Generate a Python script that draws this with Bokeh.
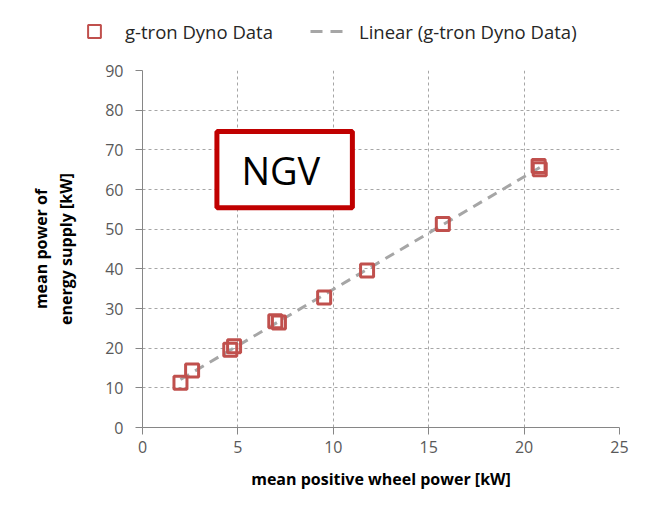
import numpy as np
from bokeh.plotting import figure
from bokeh.layouts import column
from bokeh.models import (Range1d, Legend, LegendItem, BoxAnnotation, Label,
                          ColumnDataSource, FixedTicker, LinearAxis)
from bokeh.embed import file_html
from bokeh.resources import INLINE

# ---- data ----
wheel_power = [1.99, 2.6, 4.6, 4.8, 6.96, 7.15, 9.52, 11.77, 15.74, 20.76, 20.82]
supply_power = [11.3, 14.4, 19.6, 20.5, 26.8, 26.5, 32.8, 39.6, 51.3, 65.9, 65.1]
x_ticks = [0, 5, 10, 15, 20, 25]
y_ticks = [0, 10, 20, 30, 40, 50, 60, 70, 80, 90]
series_name = "g-tron Dyno Data"
trend_name = "Linear (g-tron Dyno Data)"
box_text = "NGV"
x_title = "mean positive wheel power [kW]"
y_title_line1 = "mean power of"
y_title_line2 = "energy supply [kW]"

# linear trendline fitted to the data
slope, intercept = np.polyfit(wheel_power, supply_power, 1)
trend_x = [min(wheel_power), max(wheel_power)]
trend_y = [slope * v + intercept for v in trend_x]

FONT = "Open Sans"
RED = "#C0504D"
W = 629
LEG_H = 50
H = 499 - LEG_H

src = ColumnDataSource(dict(x=wheel_power, y=supply_power))
trend_src = ColumnDataSource(dict(x=trend_x, y=trend_y))

# ---------------- main chart ----------------
p = figure(width=W, height=H, output_backend="svg", toolbar_location=None,
           x_range=Range1d(0, 25), y_range=Range1d(0, 90),
           min_border_left=142, min_border_right=10,
           min_border_top=70 - LEG_H, min_border_bottom=72)
p.frame_align = False
p.outline_line_color = None
p.background_fill_color = "white"
p.border_fill_color = "white"

for g in (p.xgrid, p.ygrid):
    g.grid_line_color = "#a6a6a6"
    g.grid_line_dash = "3 3"
    g.grid_line_width = 1
p.xgrid.ticker = FixedTicker(ticks=x_ticks)
p.ygrid.ticker = FixedTicker(ticks=y_ticks)

p.xaxis.ticker = FixedTicker(ticks=x_ticks)
p.yaxis.ticker = FixedTicker(ticks=y_ticks)
for ax in (p.xaxis[0], p.yaxis[0]):
    ax.axis_line_color = "#868686"
    ax.major_tick_line_color = "#868686"
    ax.major_tick_in = 0
    ax.major_tick_out = 7
    ax.minor_tick_line_color = None
    ax.major_label_text_font = FONT
    ax.major_label_text_font_size = "16px"
    ax.major_label_text_color = "#595959"
    ax.axis_label_text_font = FONT
    ax.axis_label_text_font_size = "16px"
    ax.axis_label_text_font_style = "bold"
    ax.axis_label_text_color = "black"
p.xaxis.major_label_standoff = 6
p.yaxis.major_label_standoff = 12
p.xaxis.axis_label = x_title
p.xaxis.axis_label_standoff = 12
p.yaxis.axis_label = y_title_line2
p.yaxis.axis_label_standoff = 25

y_outer = LinearAxis(axis_label=y_title_line1, axis_line_color=None,
                     major_tick_line_color=None, minor_tick_line_color=None,
                     major_label_text_font_size="0px",
                     ticker=FixedTicker(ticks=[]),
                     axis_label_standoff=1, axis_label_text_font=FONT,
                     axis_label_text_font_size="16px",
                     axis_label_text_font_style="bold",
                     axis_label_text_color="black")
p.add_layout(y_outer, "left")

p.line("x", "y", source=trend_src, line_color="#a6a6a6",
       line_width=3, line_dash="10 7")
p.scatter("x", "y", source=src, marker="square", size=13,
          fill_color="white", fill_alpha=0.0,
          line_color=RED, line_width=3)

box = BoxAnnotation(left=3.9, right=11.0, bottom=55.4, top=74.6,
                    line_color="#C00000", line_alpha=1.0, line_width=5,
                    fill_color="white", fill_alpha=1.0)
p.add_layout(box)
p.add_layout(Label(x=7.25, y=64.8, text=box_text, text_align="center",
                   text_baseline="middle", text_font=FONT,
                   text_font_size="38px", text_color="black"))

# ---------------- legend strip (same glyph styles, data kept out of view) ----
lg = figure(width=W, height=LEG_H, output_backend="svg", toolbar_location=None,
            x_range=Range1d(100, 101), y_range=Range1d(100, 101),
            min_border=0, min_border_left=0, min_border_right=0,
            min_border_top=0, min_border_bottom=0)
lg.frame_align = False
lg.axis.visible = False
lg.grid.visible = False
lg.outline_line_color = None
lr_trend = lg.line("x", "y", source=trend_src, line_color="#a6a6a6",
                   line_width=3, line_dash="12 8")
lr_pts = lg.scatter("x", "y", source=src, marker="square", size=13,
                    fill_color="white", fill_alpha=0.0,
                    line_color=RED, line_width=2)
legend = Legend(items=[LegendItem(label=series_name, renderers=[lr_pts]),
                       LegendItem(label=trend_name, renderers=[lr_trend])],
                orientation="horizontal", location=(76, 3),
                label_text_font=FONT, label_text_font_size="18.5px",
                label_text_color="#262626",
                glyph_width=36, glyph_height=32, label_standoff=13,
                spacing=37, padding=0, margin=0,
                border_line_color=None, background_fill_alpha=0)
lg.add_layout(legend)

layout = column(lg, p, spacing=0)
open("out.html", "w").write(file_html(layout, INLINE))
